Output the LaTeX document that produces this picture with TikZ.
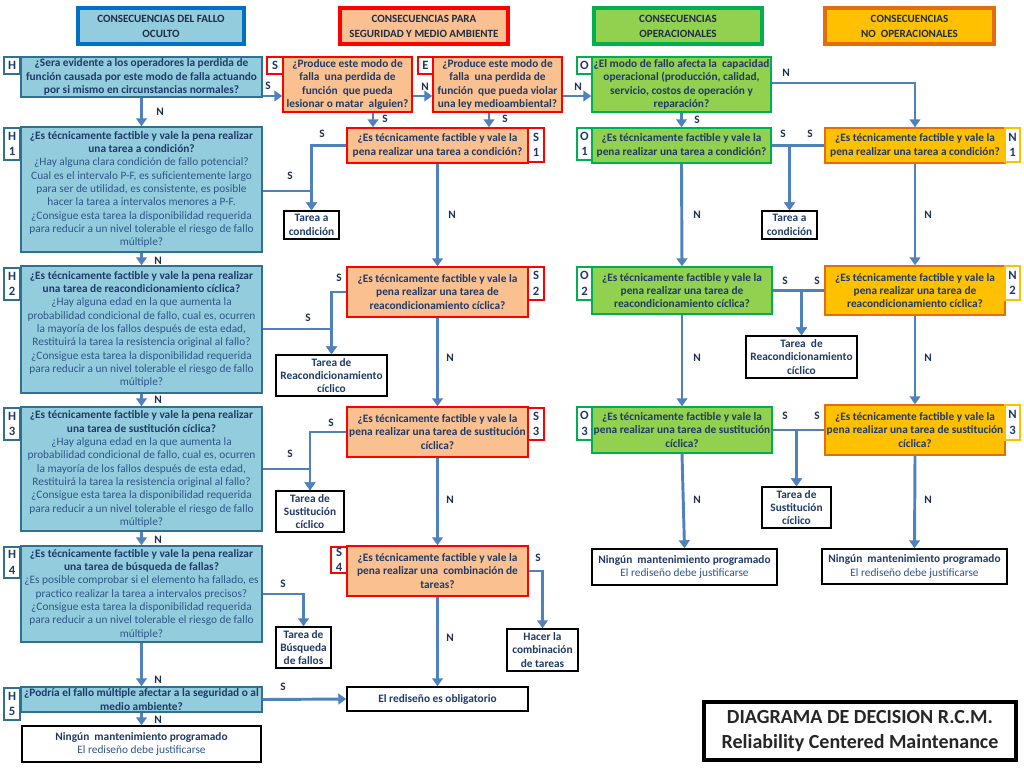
\documentclass[tikz,border=0pt]{standalone}
\usepackage{fontspec}
\setmainfont{Carlito}
\usetikzlibrary{arrows.meta,calc}
\definecolor{txt}{HTML}{1F3A68}
\definecolor{txtn}{HTML}{2F5587}
\definecolor{hdrtxt}{HTML}{1F2D45}
\definecolor{labtxt}{HTML}{1F2F4F}
\definecolor{hfill}{HTML}{93CDDD}
\definecolor{hbord}{HTML}{31708F}
\definecolor{hhdr}{HTML}{0070C0}
\definecolor{sfill}{HTML}{FAC090}
\definecolor{sbord}{HTML}{FF0000}
\definecolor{ofill}{HTML}{92D050}
\definecolor{obord}{HTML}{00B050}
\definecolor{nfill}{HTML}{FFC000}
\definecolor{nbord}{HTML}{E46C0A}
\definecolor{ntag}{HTML}{FFC000}
\definecolor{arrc}{HTML}{4F81BD}
\newcommand\mkbox[6]{\node[#1, minimum width={(#4-#2)*0.75pt}, minimum height={(#5-#3)*0.75pt}] (#6) at ({(#2+#4)/2},{(#3+#5)/2})}
\newcommand\nm[1]{\textmd{\color{txtn}#1}}
\begin{document}
\begin{tikzpicture}[x=0.75pt,y=-0.75pt,
  base/.style={inner xsep=0.5pt, inner ysep=0pt, align=center, font=\fontsize{8.5}{10}\selectfont\bfseries, text=txt},
  hq/.style={base, draw=hbord, fill=hfill, line width=1.1pt},
  sq/.style={base, draw=sbord, fill=sfill, line width=1.1pt},
  oq/.style={base, draw=obord, fill=ofill, line width=1.1pt},
  nq/.style={base, draw=nbord, fill=nfill, line width=1.1pt},
  res/.style={base, draw=black, fill=white, line width=1.1pt},
  tagbox/.style={base, fill=white, line width=0.9pt, font=\fontsize{9.5}{11.5}\selectfont\bfseries},
  hdr/.style={base, line width=3pt, font=\fontsize{8.3}{11.2}\selectfont\bfseries, text=hdrtxt},
  arr/.style={draw=arrc, line width=2.2pt, -{Triangle[width=8pt,length=6pt]}},
  lab/.style={font=\fontsize{8.5}{10}\selectfont\bfseries, text=labtxt, inner sep=0pt}]
\useasboundingbox[fill=white] (0,0) rectangle (1024,768);

% headers
\mkbox{hdr, draw=hhdr, fill=hfill}{78}{8}{244}{44}{hh}{CONSECUENCIAS DEL FALLO\\OCULTO};
\mkbox{hdr, draw=sbord, fill=sfill}{340}{8}{508}{44}{sh}{CONSECUENCIAS PARA\\SEGURIDAD Y MEDIO AMBIENTE};
\mkbox{hdr, draw=obord, fill=ofill}{594}{8}{762}{44}{oh}{CONSECUENCIAS\\OPERACIONALES};
\mkbox{hdr, draw=nbord, fill=nfill}{825}{8}{994}{44}{nh}{CONSECUENCIAS\\NO\ \ OPERACIONALES};

% H column
\mkbox{hq}{21}{57}{262}{97}{h0}{¿Sera evidente a los operadores la perdida de\\función causada por este modo de falla actuando\\por si mismo en circunstancias normales?};
\mkbox{hq}{21}{127}{262}{252}{h1}{¿Es técnicamente factible y vale la pena realizar\\una tarea a condición?\\\nm{¿Hay alguna clara condición de fallo potencial?}\\\nm{Cual es el intervalo P-F, es suficientemente largo}\\\nm{para ser de utilidad, es consistente, es posible}\\\nm{hacer la tarea a intervalos menores a P-F.}\\\nm{¿Consigue esta tarea la disponibilidad requerida}\\\nm{para reducir a un nivel tolerable el riesgo de fallo}\\\nm{múltiple?}};
\mkbox{hq}{21}{266}{262}{393}{h2}{¿Es técnicamente factible y vale la pena realizar\\una tarea de reacondicionamiento cíclica?\\\nm{¿Hay alguna edad en la que aumenta la}\\\nm{probabilidad condicional de fallo, cual es, ocurren}\\\nm{la mayoría de los fallos después de esta edad,}\\\nm{Restituirá la tarea la resistencia original al fallo?}\\\nm{¿Consigue esta tarea la disponibilidad requerida}\\\nm{para reducir a un nivel tolerable el riesgo de fallo}\\\nm{múltiple?}};
\mkbox{hq}{21}{407}{262}{531}{h3}{¿Es técnicamente factible y vale la pena realizar\\una tarea de sustitución cíclica?\\\nm{¿Hay alguna edad en la que aumenta la}\\\nm{probabilidad condicional de fallo, cual es, ocurren}\\\nm{la mayoría de los fallos después de esta edad,}\\\nm{Restituirá la tarea la resistencia original al fallo?}\\\nm{¿Consigue esta tarea la disponibilidad requerida}\\\nm{para reducir a un nivel tolerable el riesgo de fallo}\\\nm{múltiple?}};
\mkbox{hq}{21}{546}{262}{642}{h4}{¿Es técnicamente factible y vale la pena realizar\\una tarea de búsqueda de fallas?\\\nm{¿Es posible comprobar si el elemento ha fallado, es}\\\nm{practico realizar la tarea a intervalos precisos?}\\\nm{¿Consigue esta tarea la disponibilidad requerida}\\\nm{para reducir a un nivel tolerable el riesgo de fallo}\\\nm{múltiple?}};
\mkbox{hq}{21}{687}{262}{712}{h5}{¿Podría el fallo múltiple afectar a la seguridad o al\\medio ambiente?};
\mkbox{res}{22}{726}{261}{762}{he}{Ningún\ \ mantenimiento programado\\\nm{El rediseño debe justificarse}};

% S column
\mkbox{sq}{283}{57}{412}{112}{s0}{¿Produce este modo de\\falla\ \ una perdida de\\función\ \ que pueda\\lesionar o matar\ \ alguien?};
\mkbox{sq}{433}{57}{562}{112}{e0}{¿Produce este modo de\\falla\ \ una perdida de\\función\ \ que pueda violar\\una ley medioambiental?};
\mkbox{sq}{347}{128}{528}{163}{s1}{¿Es técnicamente factible y vale la\\pena realizar una tarea a condición?};
\mkbox{sq}{347}{267}{528}{317}{s2}{¿Es técnicamente factible y vale la\\pena realizar una tarea de\\reacondicionamiento cíclica?};
\mkbox{sq}{347}{407}{528}{457}{s3}{¿Es técnicamente factible y vale la\\pena realizar una tarea de sustitución\\cíclica?};
\mkbox{sq}{347}{546}{528}{596}{s4}{¿Es técnicamente factible y vale la\\pena realizar una\ \ combinación de\\tareas?};
\mkbox{res}{347}{687}{528}{711}{red}{El rediseño es obligatorio};

% O column
\mkbox{oq}{592}{57}{771}{112}{o0}{¿El modo de fallo afecta la\ \ capacidad\\operacional (producción, calidad,\\servicio, costos de operación y\\reparación?};
\mkbox{oq}{592}{128}{771}{163}{o1}{¿Es técnicamente factible y vale la\\pena realizar una tarea a condición?};
\mkbox{oq}{592}{267}{772}{314}{o2}{¿Es técnicamente factible y vale la\\pena realizar una tarea de\\reacondicionamiento cíclica?};
\mkbox{oq}{592}{407}{772}{453}{o3}{¿Es técnicamente factible y vale la\\pena realizar una tarea de sustitución\\cíclica?};
\mkbox{res}{592}{549}{777}{585}{oe}{Ningún\ \ mantenimiento programado\\\nm{El rediseño debe justificarse}};

% N column
\mkbox{nq}{825}{128}{1005}{163}{n1}{¿Es técnicamente factible y vale la\\pena realizar una tarea a condición?};
\mkbox{nq}{825}{266}{1005}{315}{n2}{¿Es técnicamente factible y vale la\\pena realizar una tarea de\\reacondicionamiento cíclica?};
\mkbox{nq}{825}{405}{1005}{455}{n3}{¿Es técnicamente factible y vale la\\pena realizar una tarea de sustitución\\cíclica?};
\mkbox{res}{822}{549}{1007}{584}{ne}{Ningún\ \ mantenimiento programado\\\nm{El rediseño debe justificarse}};

% result boxes
\mkbox{res}{284}{211}{339}{239}{t1}{Tarea a\\condición};
\mkbox{res}{276}{355}{387}{396}{t2}{Tarea de\\Reacondicionamiento\\cíclico};
\mkbox{res}{276}{491}{344}{532}{t3}{Tarea de\\Sustitución\\cíclico};
\mkbox{res}{276}{627}{331}{668}{t4}{Tarea de\\Búsqueda\\de fallos};
\mkbox{res}{507}{629}{578}{671}{t5}{Hacer la\\combinación\\de tareas};
\mkbox{res}{762}{211}{817}{239}{t6}{Tarea a\\condición};
\mkbox{res}{746}{336}{857}{378}{t7}{Tarea\ \ de\\Reacondicionamiento\\cíclico};
\mkbox{res}{762}{487}{831}{528}{t8}{Tarea de\\Sustitución\\cíclico};

% title
\mkbox{base, draw=black, line width=2.6pt, font=\fontsize{15}{19}\selectfont\bfseries, text=black!85}{704}{702}{1016}{760}{title}{DIAGRAMA DE DECISION R.C.M.\\Reliability Centered Maintenance};

% tags
\mkbox{tagbox, draw=hbord}{4}{57}{20}{74}{th0}{H};
\mkbox{tagbox, draw=hbord}{4}{128}{20}{160}{th1}{H\\1};
\mkbox{tagbox, draw=hbord}{4}{268}{20}{300}{th2}{H\\2};
\mkbox{tagbox, draw=hbord}{4}{408}{20}{440}{th3}{H\\3};
\mkbox{tagbox, draw=hbord}{4}{547}{20}{578}{th4}{H\\4};
\mkbox{tagbox, draw=hbord}{4}{688}{20}{720}{th5}{H\\5};
\mkbox{tagbox, draw=sbord}{267}{57}{283}{74}{ts0}{S};
\mkbox{tagbox, draw=sbord}{418}{57}{433}{74}{te0}{E};
\mkbox{tagbox, draw=sbord}{528}{128}{544}{162}{ts1}{S\\1};
\mkbox{tagbox, draw=sbord}{528}{267}{544}{300}{ts2}{S\\2};
\mkbox{tagbox, draw=sbord}{528}{408}{544}{440}{ts3}{S\\3};
\mkbox{tagbox, draw=sbord}{331}{547}{347}{573}{ts4}{S\\4};
\mkbox{tagbox, draw=obord}{577}{57}{592}{74}{to0}{O};
\mkbox{tagbox, draw=obord}{577}{128}{592}{160}{to1}{O\\1};
\mkbox{tagbox, draw=obord}{577}{267}{592}{300}{to2}{O\\2};
\mkbox{tagbox, draw=obord}{577}{407}{592}{440}{to3}{O\\3};
\mkbox{tagbox, draw=ntag}{1005}{128}{1020}{162}{tn1}{N\\1};
\mkbox{tagbox, draw=ntag}{1005}{266}{1020}{300}{tn2}{N\\2};
\mkbox{tagbox, draw=ntag}{1005}{405}{1020}{440}{tn3}{N\\3};

% helper coordinates
\coordinate (yA) at (0,96);
\coordinate (yB) at (0,83);
\coordinate (yC) at (0,191);
\coordinate (yD) at (0,329);
\coordinate (yE) at (0,469);
\coordinate (xS) at (373,0);
\coordinate (xE) at (489,0);

% connectors
\draw[arr] (h0.east |- yA) -- (s0.west |- yA);
\draw[arr] (s0.east |- yA) -- (e0.west |- yA);
\draw[arr] (e0.east |- yA) -- (o0.west |- yA);
\draw[arr] (s0.south -| xS) -- (s1.north -| xS);
\draw[arr] (e0.south -| xE) -- (s1.north -| xE);
\draw[arr] (o0.east |- yB) -| (n1.north);
\draw[arr] (o0.south) -- (o1.north);
\draw[arr] (h0.south) -- (h1.north);
\draw[arr] (h1.east |- yC) -| (t1.north);
\draw[arr] (s1.west) -| (t1.north);
\draw[arr] (s1.south) -- (s2.north);
\draw[arr] (h1.south) -- (h2.north);
\draw[arr] (h2.east |- yD) -| (t2.north);
\draw[arr] (s2.west) -| (t2.north);
\draw[arr] (s2.south) -- (s3.north);
\draw[arr] (h2.south) -- (h3.north);
\draw[arr] (h3.east |- yE) -| (t3.north);
\draw[arr] (s3.west) -| (t3.north);
\draw[arr] (s3.south) -- (s4.north);
\draw[arr] (h3.south) -- (h4.north);
\draw[arr] (h4.east) -| (t4.north);
\draw[arr] (s4.east) -| (t5.north);
\draw[arr] (s4.south) -- (red.north);
\draw[arr] (h4.south) -- (h5.north);
\draw[arr] (h5.east) -- (red.west);
\draw[arr] (h5.south) -- (he.north);
\draw[arr] (o1.east) -| (t6.north);
\draw[arr] (n1.west) -| (t6.north);
\draw[arr] (o1.south) -- (o2.north);
\draw[arr] (n1.south) -- (n2.north);
\draw[arr] (o2.east) -| (t7.north);
\draw[arr] (n2.west) -| (t7.north);
\draw[arr] (o2.south) -- (o3.north);
\draw[arr] (n2.south) -- (n3.north);
\draw[arr] (o3.east) -| (t8.north);
\draw[arr] (n3.west) -| (t8.north);
\draw[arr] (o3.south) -- (oe.north);
\draw[arr] (n3.south) -- (ne.north);

% labels
\node[lab] (l01) at (268,86) {S};
\node[lab] (l02) at (425,87) {N};
\node[lab] (l03) at (578,87) {N};
\node[lab] (l04) at (385,119) {S};
\node[lab] (l05) at (505,119) {S};
\node[lab] (l06) at (786,73) {N};
\node[lab] (l07) at (697,120) {S};
\node[lab] (l08) at (160,112) {N};
\node[lab] (l09) at (290,176) {S};
\node[lab] (l10) at (322,134) {S};
\node[lab] (l11) at (452,215) {N};
\node[lab] (l12) at (158,261) {N};
\node[lab] (l13) at (308,318) {S};
\node[lab] (l14) at (339,278) {S};
\node[lab] (l15) at (450,358) {N};
\node[lab] (l16) at (158,400) {N};
\node[lab] (l17) at (290,454) {S};
\node[lab] (l18) at (331,423) {S};
\node[lab] (l19) at (450,500) {N};
\node[lab] (l20) at (158,540) {N};
\node[lab] (l21) at (283,584) {S};
\node[lab] (l22) at (538,558) {S};
\node[lab] (l23) at (450,638) {N};
\node[lab] (l24) at (158,680) {N};
\node[lab] (l25) at (283,687) {S};
\node[lab] (l26) at (158,720) {N};
\node[lab] (l27) at (783,134) {S};
\node[lab] (l28) at (810,134) {S};
\node[lab] (l29) at (697,215) {N};
\node[lab] (l30) at (928,215) {N};
\node[lab] (l31) at (785,281) {S};
\node[lab] (l32) at (817,281) {S};
\node[lab] (l33) at (697,358) {N};
\node[lab] (l34) at (928,358) {N};
\node[lab] (l35) at (785,416) {S};
\node[lab] (l36) at (817,416) {S};
\node[lab] (l37) at (697,500) {N};
\node[lab] (l38) at (928,500) {N};
\end{tikzpicture}
\end{document}
